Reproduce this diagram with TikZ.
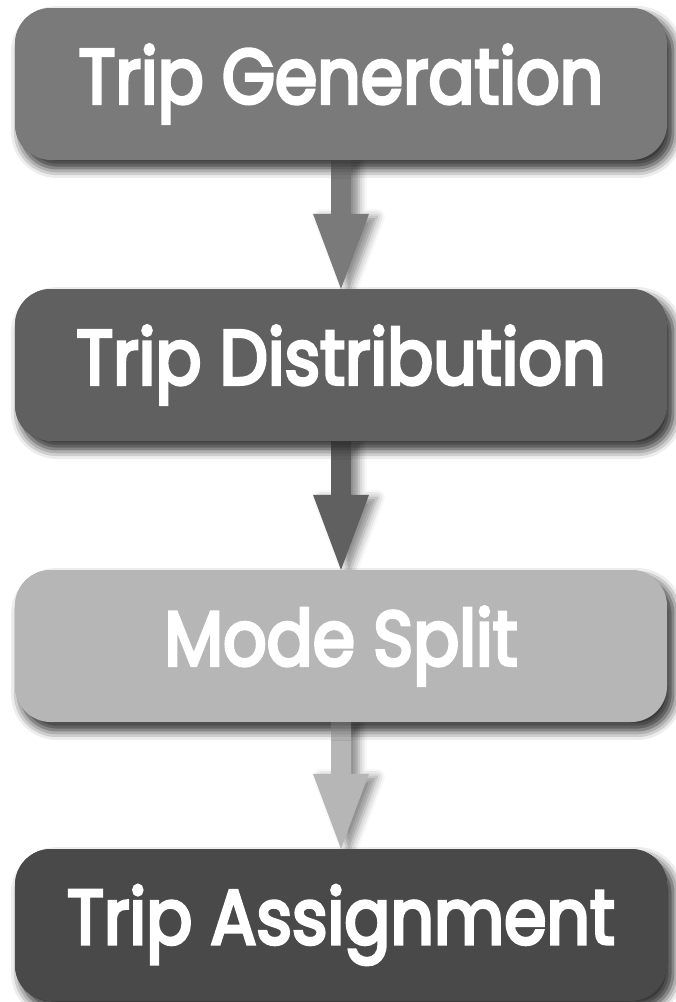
\documentclass[tikz,border=0pt]{standalone}
\usepackage{fontspec}
\usepackage{graphicx}
\setmainfont{Poppins}
\newfontfamily\stagefont{Poppins}[FakeBold=4.5]
\usetikzlibrary{calc,shadows.blur}

\definecolor{gA}{HTML}{7A7A7A}
\definecolor{gB}{HTML}{606060}
\definecolor{gC}{HTML}{B6B6B6}
\definecolor{gD}{HTML}{494949}

% stage labels, slightly condensed
\newcommand\stagelabel[1]{\scalebox{0.885}[1]{#1}}

\tikzset{
  stage/.style={rectangle, rounded corners=36pt, minimum width=652pt,
    minimum height=152pt, inner sep=0pt, text=white,
    font=\fontsize{77}{77}\stagefont,
    blur shadow={shadow xshift=6pt, shadow yshift=-8pt,
      shadow blur radius=10pt, shadow opacity=55}},
  flowarrow/.style={blur shadow={shadow xshift=8pt, shadow yshift=-3pt,
      shadow blur radius=8pt, shadow opacity=45}},
}

\begin{document}
\begin{tikzpicture}[x=1pt,y=-1pt]
  \useasboundingbox (0,0) rectangle (676,1002);

  % stage boxes placed first (for anchors), redrawn on top of the arrows
  \path
    (341,84)  node[stage, fill=gA] (gen)  {\stagelabel{Trip Generation}}
    (341,365) node[stage, fill=gB] (dist) {\stagelabel{Trip Distribution}}
    (341,646) node[stage, fill=gC] (mode) {\stagelabel{Mode Split}}
    (341,925) node[stage, fill=gD] (asg)  {\stagelabel{Trip Assignment}};

  % block arrows between consecutive stages
  \foreach \a/\b/\c in {gen/dist/gA, dist/mode/gB, mode/asg/gC}{
    \fill[\c, flowarrow]
      ($(\a.south)+(-10,0)$) -- ($(\b.north)+(-10,-75)$) -- ++(-18,0)
      -- (\b.north) -- ($(\b.north)+(28,-75)$) -- ++(-18,0)
      -- ($(\a.south)+(10,0)$) -- cycle;
  }

  % boxes drawn over the arrows so their shadows fall on the shafts
  \path
    (341,84)  node[stage, fill=gA] {\stagelabel{Trip Generation}}
    (341,365) node[stage, fill=gB] {\stagelabel{Trip Distribution}}
    (341,646) node[stage, fill=gC] {\stagelabel{Mode Split}}
    (341,925) node[stage, fill=gD] {\stagelabel{Trip Assignment}};
\end{tikzpicture}
\end{document}
